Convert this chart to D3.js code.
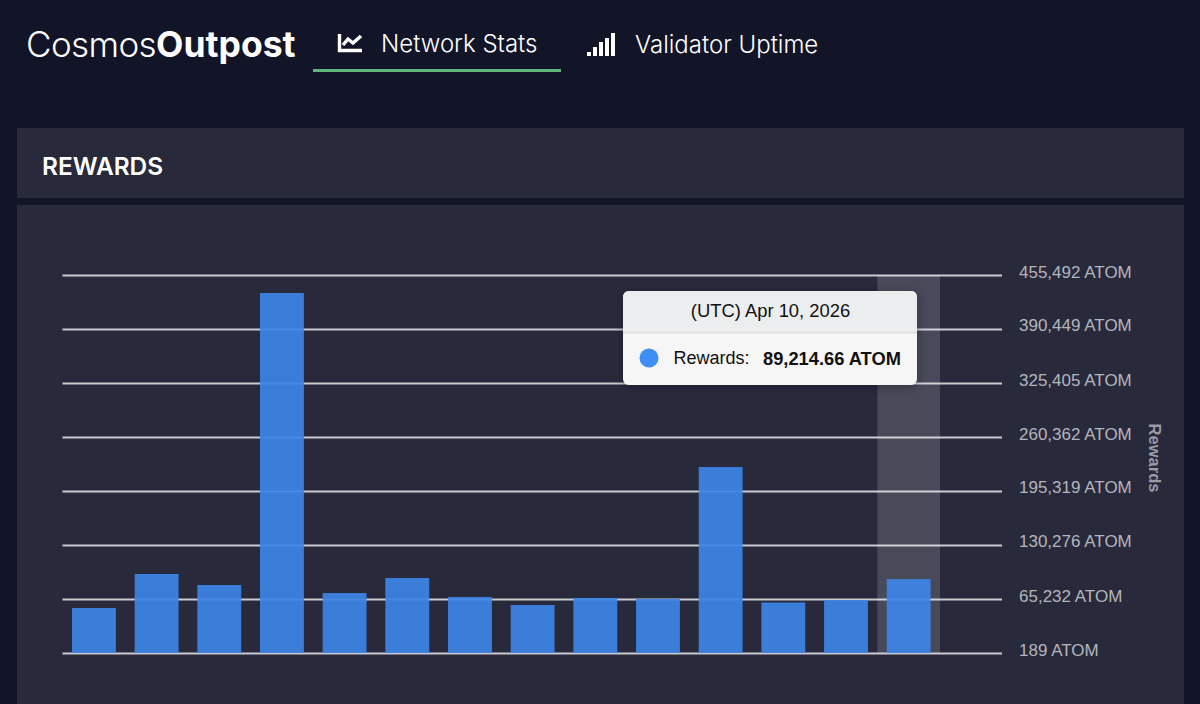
<!DOCTYPE html>
<html lang="en">
<head>
  <meta charset="UTF-8" />
  <title>Cosmos Outpost - Rewards</title>
  <script src="https://d3js.org/d3.v7.min.js"></script>
  <style>
    html, body { margin: 0; padding: 0; background: #121427; overflow: hidden; }
    svg { display: block; }
    .ui { font-family: Inter, sans-serif; fill: #fff; }
    .chart-text { font-family: "Liberation Sans", Arial, sans-serif; }
    .y-axis line { stroke: #c9c9d0; stroke-width: 2; }
    .y-axis .domain { display: none; }
    .y-axis text { fill: #b4b5bc; font-size: 17px; font-family: "Liberation Sans", Arial, sans-serif; }
  </style>
</head>
<body>
  <svg id="page" width="1200" height="704"></svg>

  <script>
    // values
    const days = ["Mar 28", "Mar 29", "Mar 30", "Mar 31", "Apr 1", "Apr 2", "Apr 3",
                  "Apr 4", "Apr 5", "Apr 6", "Apr 7", "Apr 8", "Apr 9", "Apr 10"];
    const rewards = [54400, 95350, 82100, 433800, 72450, 90500, 67650,
                     58000, 66450, 65250, 224200, 61000, 64000, 89214.66];
    const tickValues = [189, 65232, 130276, 195319, 260362, 325405, 390449, 455492];
    const hoveredDay = "Apr 10";

    const svg = d3.select("#page");

    // panels
    svg.append("rect").attr("x", 17).attr("y", 128).attr("width", 1167).attr("height", 70).attr("fill", "#282a3c");
    svg.append("rect").attr("x", 17).attr("y", 205).attr("width", 1167).attr("height", 499).attr("fill", "#282a3c");

    // top nav
    const logo = svg.append("text").attr("class", "ui").attr("x", 26).attr("y", 57);
    logo.append("tspan").attr("font-weight", 300).style("font-size", "35px").attr("letter-spacing", "-0.6px").text("Cosmos");
    logo.append("tspan").attr("font-weight", 700).style("font-size", "35.5px").text("Outpost");

    svg.append("text").attr("class", "ui").attr("x", 381).attr("y", 52)
      .style("font-size", "24px").attr("font-weight", 300).text("Network Stats");
    svg.append("text").attr("class", "ui").attr("x", 635).attr("y", 53)
      .style("font-size", "24px").attr("font-weight", 300).text("Validator Uptime");
    svg.append("rect").attr("x", 313).attr("y", 69).attr("width", 248).attr("height", 3).attr("fill", "#5fb57f");

    // line chart icon
    svg.append("path").attr("fill", "none").attr("stroke", "#fff").attr("stroke-width", 3.4)
      .attr("d", "M339.5 34V50.5H362M343 45L348 39L353 43L361 36");
    // signal icon
    [[587, 52, 4], [593, 47, 9], [599, 42, 14], [605, 38, 18], [611, 33, 23]].forEach(b => {
      svg.append("rect").attr("x", b[0]).attr("y", b[1]).attr("width", 4).attr("height", b[2]).attr("fill", "#fff");
    });

    svg.append("text").attr("class", "ui").attr("x", 42).attr("y", 175)
      .style("font-size", "24.4px").attr("font-weight", 600).text("REWARDS");

    // chart
    const x = d3.scaleBand().domain(days).range([62.6, 940]).paddingInner(0.3).paddingOuter(0.15);
    const y = d3.scaleLinear().domain([189, 455492]).range([653, 275]);

    const axis = d3.axisRight(y)
      .tickValues(tickValues)
      .tickSize(939.5)
      .tickPadding(17)
      .tickFormat(d => d3.format(",")(d) + " ATOM");

    svg.append("g").attr("class", "y-axis").attr("transform", "translate(62.5,0)").call(axis)
      .selectAll("text").attr("dy", "0").attr("y", 2);

    // hover band
    const step = x.step();
    svg.append("rect")
      .attr("x", x(hoveredDay) - step * 0.15)
      .attr("y", y(455492))
      .attr("width", step)
      .attr("height", y(189) - y(455492))
      .attr("fill", "#fff").attr("fill-opacity", 0.15);

    svg.selectAll("rect.bar")
      .data(rewards)
      .enter().append("rect")
      .attr("class", "bar")
      .attr("x", (d, i) => x(days[i]))
      .attr("y", d => y(d))
      .attr("width", x.bandwidth())
      .attr("height", d => y(189) - y(d))
      .attr("fill", "#3d84e6")
      .attr("fill-opacity", 0.93);

    svg.append("text").attr("class", "chart-text")
      .attr("transform", "translate(1148.5,458) rotate(90)")
      .attr("text-anchor", "middle")
      .attr("fill", "#9a9ba4").attr("font-weight", 700).style("font-size", "16.5px")
      .text("Rewards");

    // tooltip
    const defs = svg.append("defs");
    const shadow = defs.append("filter").attr("id", "tipShadow")
      .attr("x", "-10%").attr("y", "-20%").attr("width", "120%").attr("height", "140%");
    shadow.append("feDropShadow").attr("dx", 0).attr("dy", 2).attr("stdDeviation", 5)
      .attr("flood-color", "#000").attr("flood-opacity", 0.3);

    const tip = svg.append("g").attr("transform", "translate(623,291)");
    tip.append("rect").attr("width", 294).attr("height", 94).attr("rx", 6)
      .attr("fill", "#f6f6f6").attr("filter", "url(#tipShadow)");
    tip.append("path").attr("d", "M0 41V6a6 6 0 0 1 6-6H288a6 6 0 0 1 6 6V41Z").attr("fill", "#ecedee");
    tip.append("rect").attr("y", 41).attr("width", 294).attr("height", 1.5).attr("fill", "#dddee0");
    tip.append("text").attr("class", "chart-text").attr("x", 147.5).attr("y", 26)
      .attr("text-anchor", "middle").attr("fill", "#111").style("font-size", "18.4px")
      .text("(UTC) " + hoveredDay + ", 2026");
    tip.append("circle").attr("cx", 26).attr("cy", 67).attr("r", 9.5).attr("fill", "#3f8ef5");
    tip.append("text").attr("class", "chart-text").attr("x", 50.5).attr("y", 73)
      .attr("fill", "#111").style("font-size", "18px").text("Rewards:");
    tip.append("text").attr("class", "chart-text").attr("x", 140).attr("y", 73.5)
      .attr("fill", "#111").attr("font-weight", 700).style("font-size", "18.3px")
      .text(d3.format(",.2f")(rewards[days.indexOf(hoveredDay)]) + " ATOM");
  </script>
</body>
</html>
